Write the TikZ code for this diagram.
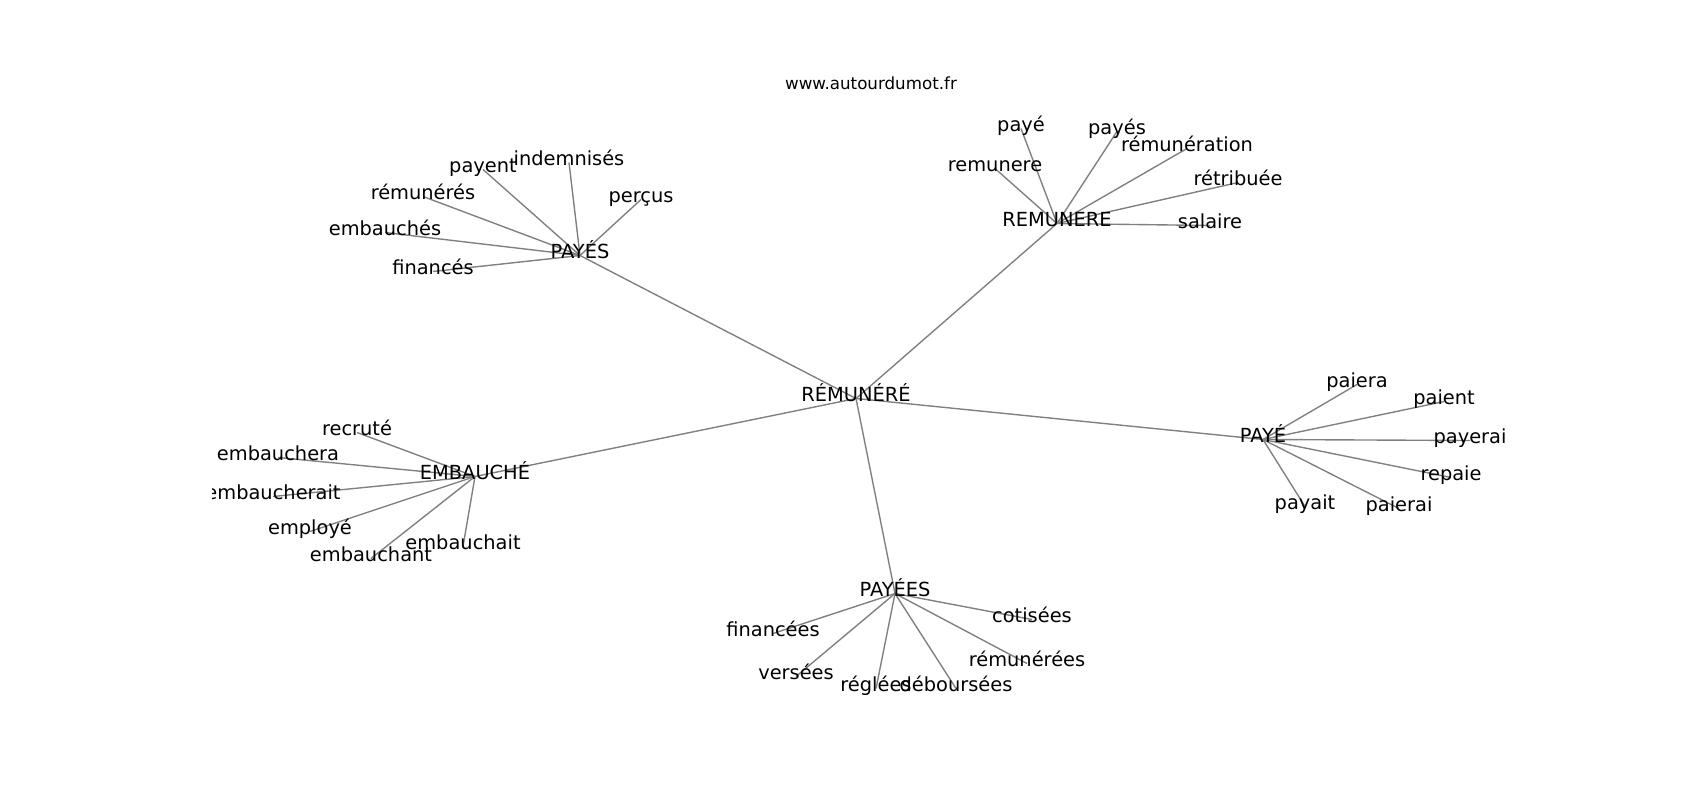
\documentclass[tikz,border=0pt]{standalone}
\usepackage{fontspec}
\setmainfont{DejaVu Sans}
\usetikzlibrary{backgrounds}
\begin{document}
\begin{tikzpicture}[x=1pt, y=-1pt,
    word/.style={inner sep=0pt, text height=0.76em, text depth=0.24em, font=\fontsize{19.4}{23}\selectfont},
    link/.style={draw=gray, line width=1.39pt}]
    \useasboundingbox (0,0) rectangle (1700,800);
    \node (title) at (871, 83) {\fontsize{16.7}{20}\selectfont www.autourdumot.fr};
    \begin{scope}[yshift=-4.5pt]
        \clip (212.5, 91.5) rectangle (1530, 707.5);
        \node [word] (0) at (856, 394) {RÉMUNÉRÉ};
        \node [word] (1) at (580, 251) {PAYÉS};
        \node [word] (2) at (1057, 219) {REMUNERE};
        \node [word] (3) at (1263, 435) {PAYÉ};
        \node [word] (4) at (895, 589) {PAYÉES};
        \node [word] (5) at (475, 472) {EMBAUCHÉ};
        \node [word] (6) at (483, 165) {payent};
        \node [word] (7) at (569, 158) {indemnisés};
        \node [word] (8) at (641, 195) {perçus};
        \node [word] (9) at (423, 192) {rémunérés};
        \node [word] (10) at (385, 228) {embauchés};
        \node [word] (11) at (433, 267) {financés};
        \node [word] (12) at (1021, 124) {payé};
        \node [word] (13) at (1117, 127) {payés};
        \node [word] (14) at (1187, 144) {rémunération};
        \node [word] (15) at (1238, 178) {rétribuée};
        \node [word] (16) at (1210, 221) {salaire};
        \node [word] (17) at (995, 164) {remunere};
        \node [word] (18) at (1357, 380) {paiera};
        \node [word] (19) at (1444, 397) {paient};
        \node [word] (20) at (1470, 436) {payerai};
        \node [word] (21) at (1451, 473) {repaie};
        \node [word] (22) at (1399, 504) {paierai};
        \node [word] (23) at (1305, 502) {payait};
        \node [word] (24) at (1032, 615) {cotisées};
        \node [word] (25) at (773, 629) {financées};
        \node [word] (26) at (796, 672) {versées};
        \node [word] (27) at (876, 684) {réglées};
        \node [word] (28) at (956, 684) {déboursées};
        \node [word] (29) at (1027, 659) {rémunérées};
        \node [word] (30) at (357, 428) {recruté};
        \node [word] (31) at (278, 453) {embauchera};
        \node [word] (32) at (273, 492) {embaucherait};
        \node [word] (33) at (310, 527) {employé};
        \node [word] (34) at (371, 554) {embauchant};
        \node [word] (35) at (463, 542) {embauchait};
    \end{scope}
    \begin{scope}[on background layer, every path/.style={link}]
        \draw (0.center) to (1.center);
        \draw (0.center) to (2.center);
        \draw (0.center) to (3.center);
        \draw (0.center) to (4.center);
        \draw (0.center) to (5.center);
        \foreach \n in {6,...,11}
            \draw (1.center) to (\n.center);
        \foreach \n in {12,...,17}
            \draw (2.center) to (\n.center);
        \foreach \n in {18,...,23}
            \draw (3.center) to (\n.center);
        \foreach \n in {24,...,29}
            \draw (4.center) to (\n.center);
        \foreach \n in {30,...,35}
            \draw (5.center) to (\n.center);
    \end{scope}
\end{tikzpicture}
\end{document}
